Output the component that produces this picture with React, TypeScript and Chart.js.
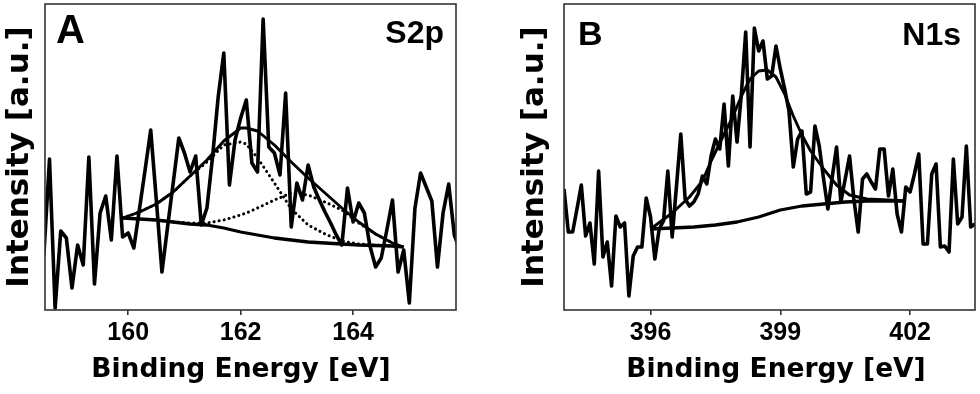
import React, { useEffect, useRef } from "react";
import { Chart, registerables } from "chart.js";
Chart.register(...registerables);

// ---------- Panel A : S2p ----------
const energyA = [158.5,158.6,158.7,158.8,158.9,159.0,159.1,159.2,159.3,159.4,159.5,159.6,159.7,159.8,159.9,160.0,160.1,160.2,160.3,160.4,160.5,160.6,160.7,160.8,160.9,161.0,161.1,161.2,161.3,161.4,161.5,161.6,161.7,161.8,161.9,162.0,162.1,162.2,162.3,162.4,162.5,162.6,162.7,162.8,162.9,163.0,163.1,163.2,163.3,163.4,163.5,163.6,163.7,163.8,163.9,164.0,164.1,164.2,164.3,164.4,164.5,164.6,164.7,164.8,164.9,165.0,165.1,165.2,165.3,165.4,165.5,165.6,165.7,165.8,165.9];
const intensityA = [55,151,2,79,72,22,65,45,153,26,97,114,70,154,73,77,62,101,140,180,110,38,83,127,172,157,138,154,85,102,153,213,257,125,170,192,210,147,138,291,163,157,135,217,83,127,110,145,123,110,98,87,75,65,122,88,107,97,64,43,52,80,110,38,60,7,102,137,123,109,43,97,126,75,60];
const fitEnergyA = [159.9,160.2,160.5,160.8,161.1,161.4,161.7,162.0,162.1,162.3,162.6,162.9,163.2,163.5,163.8,164.1,164.4,164.7,164.9];
const envelopeA = [92,98,106,118,134,150,169,182,182,179,165,148,132,117,102,88,76,67,63];
const backgroundA = [92,91,90,88,86,85,82,78,77,75,72,70,68,67,66,65,64.5,64,63];
const component1A = [92,98,106,118,134,148,165,168,166,152,127,101,85,76,69,66,65,64,63];
const component2A = [92,91,90,88,87,87,90,95,97,102,110,117,115,108,100,87,76,67,63];
const ticksA = [160, 162, 164];

// ---------- Panel B : N1s ----------
const energyB = [394.0,394.1,394.2,394.3,394.4,394.5,394.6,394.7,394.8,394.9,395.0,395.1,395.2,395.3,395.4,395.5,395.6,395.7,395.8,395.9,396.0,396.1,396.2,396.3,396.4,396.5,396.6,396.7,396.8,396.9,397.0,397.1,397.2,397.3,397.4,397.5,397.6,397.7,397.8,397.9,398.0,398.1,398.2,398.3,398.4,398.5,398.6,398.7,398.8,398.9,399.0,399.1,399.2,399.3,399.4,399.5,399.6,399.7,399.8,399.9,400.0,400.1,400.2,400.3,400.4,400.5,400.6,400.7,400.8,400.9,401.0,401.1,401.2,401.3,401.4,401.5,401.6,401.7,401.8,401.9,402.0,402.1,402.2,402.3,402.4,402.5,402.6,402.7,402.8,402.9,403.0,403.1,403.2,403.3,403.4,403.5];
const intensityB = [121,78,78,101,125,74,87,46,139,53,68,24,94,83,87,14,54,63,63,112,93,51,81,89,139,73,124,176,111,104,108,116,134,126,154,171,161,206,144,214,168,216,278,163,282,259,269,231,234,264,241,221,199,143,171,179,116,118,184,164,131,101,133,163,108,131,154,111,78,131,136,128,121,161,161,114,141,96,78,123,118,136,156,66,66,136,146,63,64,58,151,86,93,164,83,86];
const envEnergyB = [396.0,396.5,396.9,397.2,397.4,397.6,397.9,398.1,398.3,398.5,398.7,398.9,399.1,399.3,399.5,399.7,400.0,400.3,400.6,401.0,401.5,401.9];
const envelopeB = [81,97,113,129,149,167,193,214,231,239,240,233,216,194,175,159,141,125,115,111,110,109];
const bgEnergyB = [396.0,396.5,397.0,397.5,398.0,398.5,399.0,399.5,400.0,400.5,401.0,401.9];
const backgroundB = [81,82,83,85,88,93,100,104,106,108,109,109];
const ticksB = [396, 399, 402];

const xTitle = "Binding Energy [eV]";
const yTitle = "Intensity [a.u.]";

const pts = (xs: number[], ys: number[]) => xs.map((x, i) => ({ x, y: ys[i] }));

type Label = { text: string; x: number; y: number; font: string; align: CanvasTextAlign };

function framePlugin(labels: Label[]) {
  return {
    id: "frameLabels",
    afterDraw(chart: any) {
      const ctx = chart.ctx as CanvasRenderingContext2D;
      const a = chart.chartArea;
      ctx.save();
      ctx.strokeStyle = "#333";
      ctx.lineWidth = 1.6;
      ctx.strokeRect(a.left, a.top, a.right - a.left, a.bottom - a.top);
      ctx.fillStyle = "#000";
      ctx.textBaseline = "alphabetic";
      for (const l of labels) {
        ctx.font = l.font;
        ctx.textAlign = l.align;
        ctx.fillText(l.text, l.x, l.y);
      }
      ctx.restore();
    },
  };
}

const solid = (data: any[], width: number) => ({
  data,
  showLine: true,
  borderColor: "#000",
  borderWidth: width,
  pointRadius: 0,
  tension: 0,
  fill: false,
  borderJoinStyle: "round" as const,
});
const dotted = (data: any[]) => ({
  ...solid(data, 3),
  borderDash: [0.1, 5],
  borderCapStyle: "round" as const,
});

function makeConfig(opts: {
  datasets: any[];
  min: number;
  max: number;
  ticks: number[];
  yAxisWidth: number;
  yTitlePad: number;
  padRight: number;
  labels: Label[];
}) {
  const tickFont = { family: "'Liberation Sans', Arial, sans-serif", size: 25, weight: "bold" as const };
  const titleFamily = "'DejaVu Sans', sans-serif";
  return {
    type: "scatter" as const,
    data: { datasets: opts.datasets },
    plugins: [framePlugin(opts.labels)],
    options: {
      responsive: false,
      animation: false as const,
      events: [],
      layout: { padding: { left: 0, right: opts.padRight, top: 4, bottom: 0 } },
      plugins: { legend: { display: false }, tooltip: { enabled: false } },
      scales: {
        x: {
          type: "linear" as const,
          min: opts.min,
          max: opts.max,
          afterBuildTicks: (s: any) => {
            s.ticks = opts.ticks.map((v) => ({ value: v }));
          },
          afterFit: (s: any) => {
            s.height = 84;
          },
          border: { display: false },
          grid: { display: true, drawOnChartArea: false, drawTicks: true, tickLength: 5, color: "#333", lineWidth: 1.6 },
          ticks: { color: "#000", font: tickFont, padding: 3, maxRotation: 0, callback: (v: any) => String(v) },
          title: { display: false },
        },
        y: {
          type: "linear" as const,
          min: 0,
          max: 306,
          afterFit: (s: any) => {
            s.width = opts.yAxisWidth;
          },
          border: { display: false },
          grid: { display: false },
          ticks: { display: false },
          title: { display: true, text: yTitle, color: "#000", font: { family: titleFamily, size: 31, weight: "bold" as const }, padding: { top: opts.yTitlePad, bottom: 0 } },
        },
      },
    },
  };
}

export default function App() {
  const refA = useRef<HTMLCanvasElement>(null);
  const refB = useRef<HTMLCanvasElement>(null);

  useEffect(() => {
    const bold = (s: number) => `bold ${s}px 'Liberation Sans', Arial, sans-serif`;
    const titleFont = "bold 26.5px 'DejaVu Sans', sans-serif";
    const chartA = new Chart(
      refA.current!,
      makeConfig({
        datasets: [
          solid(pts(energyA, intensityA), 3.6),
          solid(pts(fitEnergyA, envelopeA), 2.9),
          solid(pts(fitEnergyA, backgroundA), 3.3),
          dotted(pts(fitEnergyA, component1A)),
          dotted(pts(fitEnergyA, component2A)),
        ],
        min: 158.52,
        max: 165.83,
        ticks: ticksA,
        yAxisWidth: 45,
        yTitlePad: 1,
        padRight: 34,
        labels: [
          { text: "A", x: 56, y: 43, font: bold(40), align: "left" },
          { text: "S2p", x: 444, y: 43, font: bold(32), align: "right" },
          { text: xTitle, x: 241, y: 377, font: titleFont, align: "center" },
        ],
      }) as any
    );
    const chartB = new Chart(
      refB.current!,
      makeConfig({
        datasets: [
          solid(pts(energyB, intensityB), 3.6),
          solid(pts(envEnergyB, envelopeB), 2.9),
          solid(pts(bgEnergyB, backgroundB), 3.3),
        ],
        min: 394.0,
        max: 403.5,
        ticks: ticksB,
        yAxisWidth: 74,
        yTitlePad: 26,
        padRight: 5,
        labels: [
          { text: "B", x: 88, y: 45, font: bold(34), align: "left" },
          { text: "N1s", x: 471, y: 45, font: bold(32), align: "right" },
          { text: xTitle, x: 286, y: 377, font: titleFont, align: "center" },
        ],
      }) as any
    );
    return () => {
      chartA.destroy();
      chartB.destroy();
    };
  }, []);

  return (
    <div style={{ position: "absolute", left: 0, top: 0, width: 980, height: 394, background: "#fff" }}>
      <div style={{ position: "absolute", left: 0, top: 0, width: 490, height: 394 }}>
        <canvas ref={refA} width={490} height={394} style={{ display: "block" }} />
      </div>
      <div style={{ position: "absolute", left: 490, top: 0, width: 490, height: 394 }}>
        <canvas ref={refB} width={490} height={394} style={{ display: "block" }} />
      </div>
    </div>
  );
}
